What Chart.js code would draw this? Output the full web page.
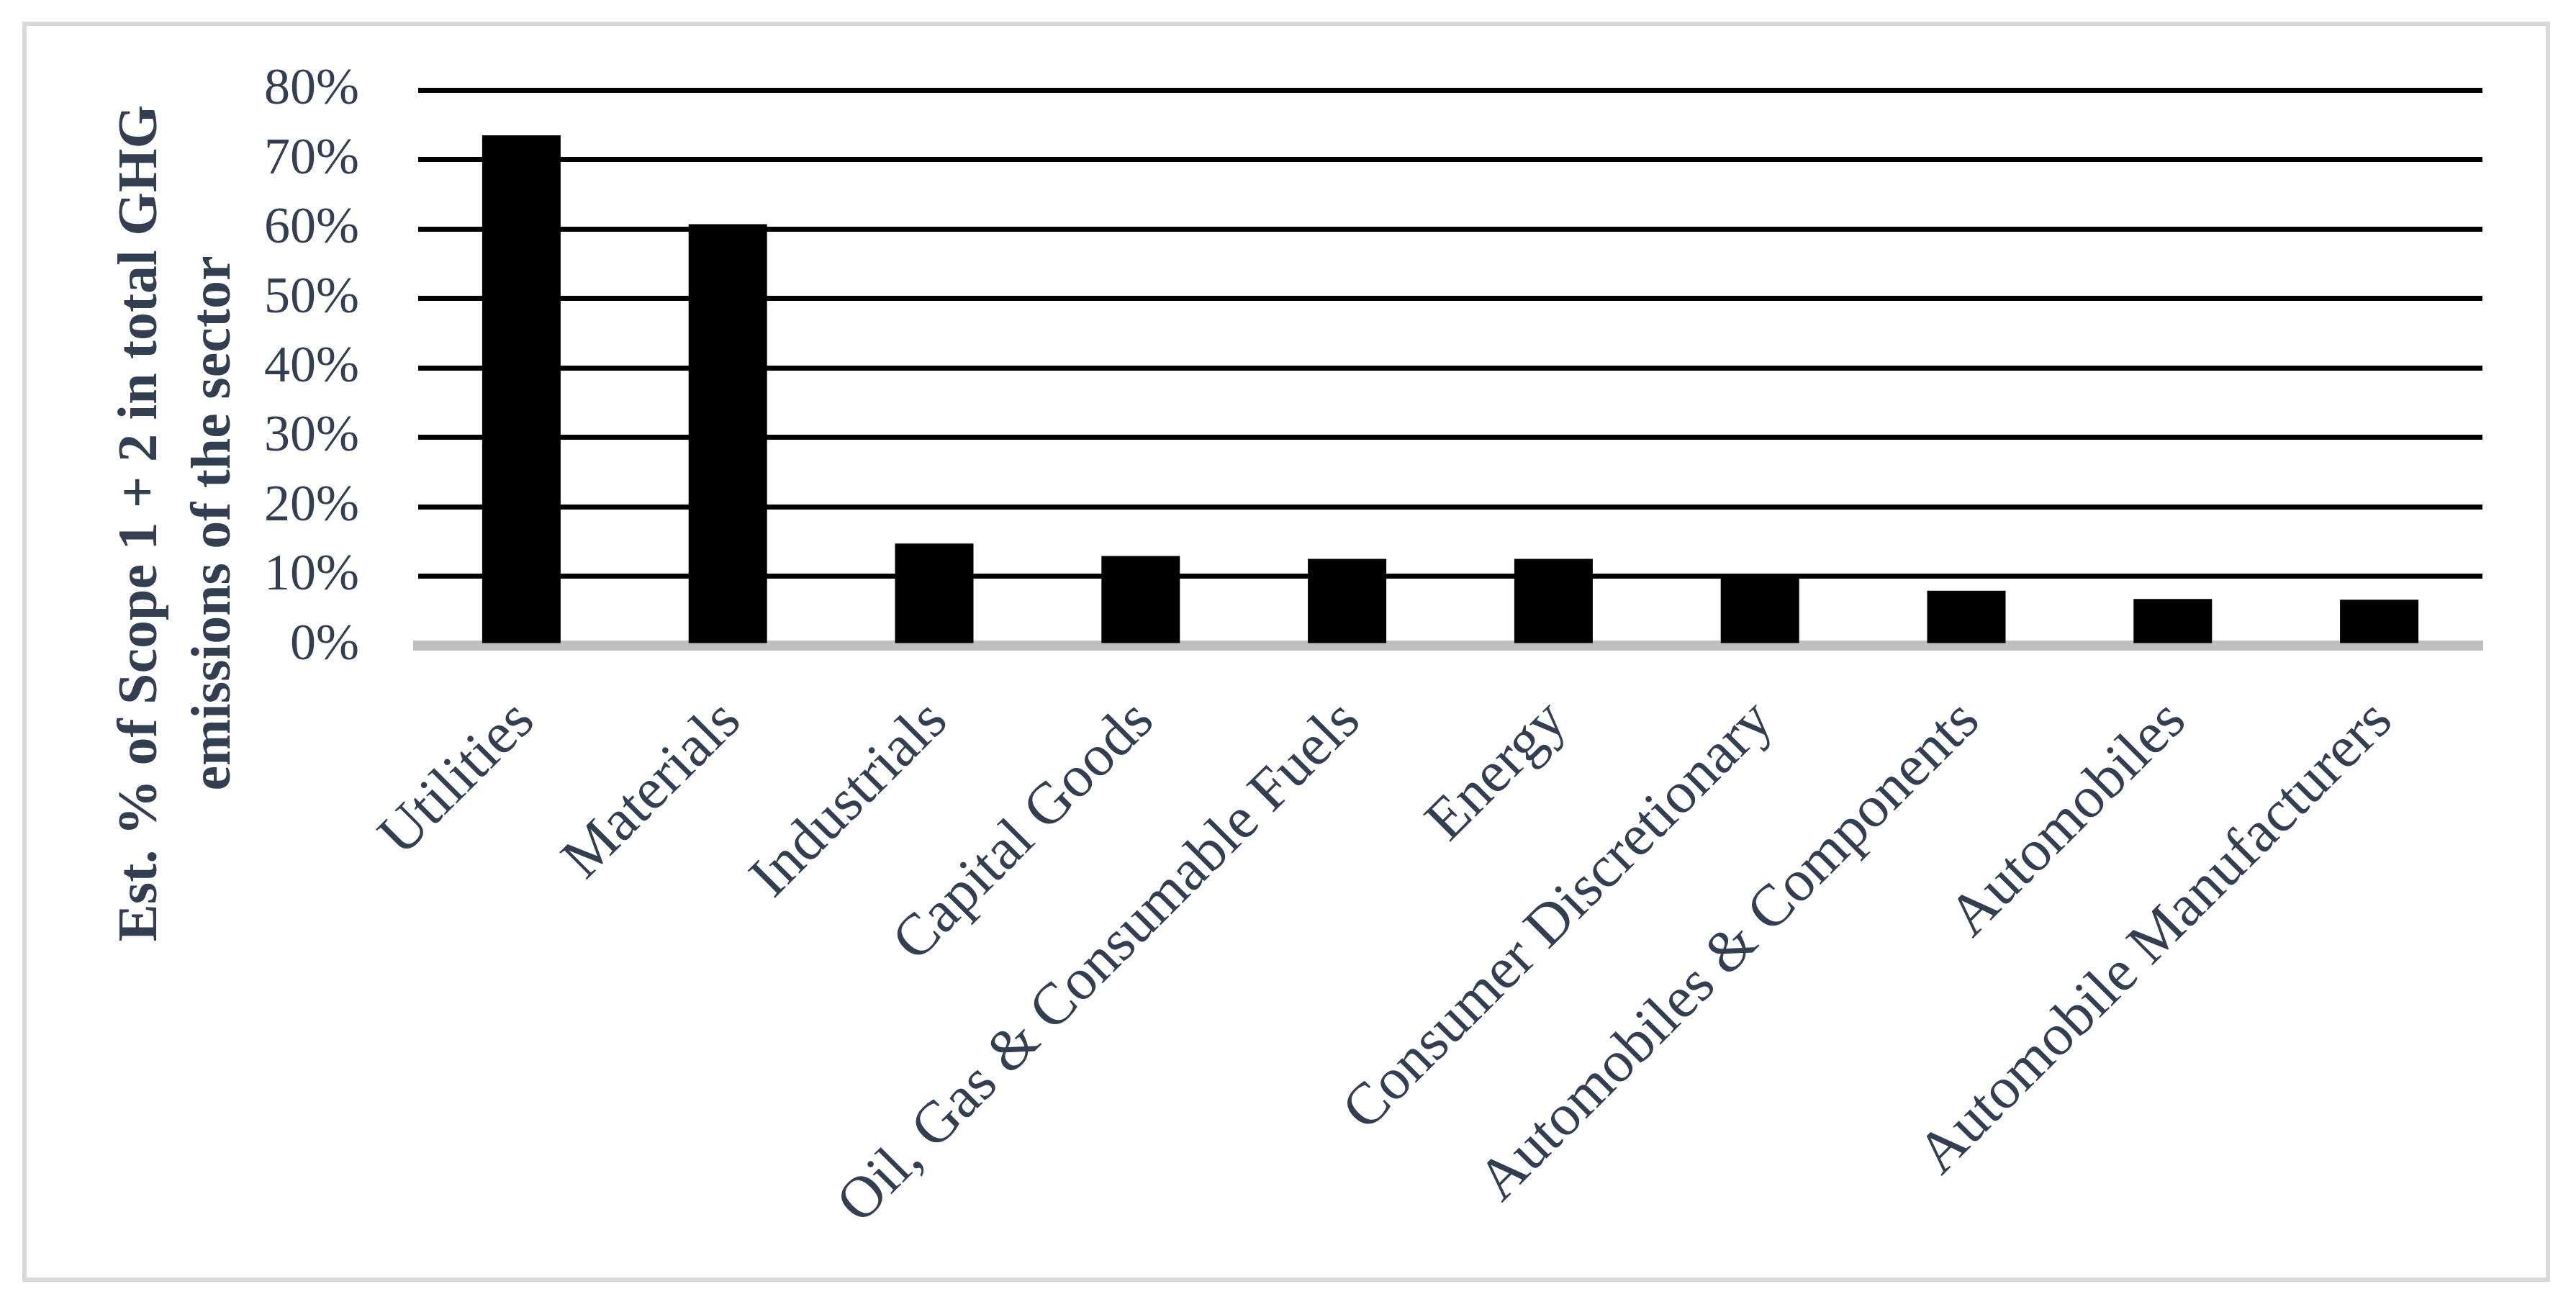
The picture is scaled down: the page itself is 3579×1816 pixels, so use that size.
<!DOCTYPE html>
<html>
<head>
<meta charset="utf-8">
<script src="https://cdn.jsdelivr.net/npm/chart.js@4.4.0/dist/chart.umd.min.js"></script>
<style>
  html, body { margin: 0; padding: 0; background: #fff; }
  #wrap { position: relative; width: 3579px; height: 1816px; }
  #frame { position: absolute; left: 31px; top: 30px; width: 3512px; height: 1751px; box-sizing: border-box; border: 6px solid #d9d9d9; }
  #grafico { position: absolute; left: 0; top: 0; }
</style>
</head>
<body>
<div id="wrap">
  <div id="frame"></div>
  <canvas id="grafico" width="3579" height="1816"></canvas>
</div>
<script>
const setores = [
    'Utilities',
    'Materials',
    'Industrials',
    'Capital Goods',
    'Oil, Gas & Consumable Fuels',
    'Energy',
    'Consumer Discretionary',
    'Automobiles & Components',
    'Automobiles',
    'Automobile Manufacturers'
];
const percentuais = [73.5, 60.7, 14.7, 12.9, 12.5, 12.5, 10.1, 7.9, 6.7, 6.6];
const marcasY = [0, 10, 20, 30, 40, 50, 60, 70, 80];
const tituloY = ['Est. % of Scope 1 + 2 in total GHG', 'emissions of the sector'];

const corTexto = '#333f50';
const fonte = 'Liberation Serif';

// titulo do eixo y fica centrado na altura toda, nao so na area do grafico
const tituloEixoY = {
    id: 'tituloEixoY',
    afterDraw(chart) {
        const ctx = chart.ctx;
        ctx.save();
        ctx.fillStyle = corTexto;
        ctx.font = 'bold 78px "' + fonte + '"';
        ctx.textAlign = 'center';
        ctx.textBaseline = 'alphabetic';
        const linhas = [217, 319];
        tituloY.forEach((txt, i) => {
            ctx.save();
            ctx.translate(linhas[i], 727);
            ctx.rotate(-Math.PI / 2);
            ctx.fillText(txt, 0, 0);
            ctx.restore();
        });
        ctx.restore();
    }
};

const data = {
    labels: setores,
    datasets: [{
        label: 'Est. % of Scope 1 + 2',
        backgroundColor: '#000000',
        borderWidth: 0,
        data: percentuais,
        barPercentage: 0.38,
        categoryPercentage: 1
    }]
};

const config = {
    type: 'bar',
    data: data,
    plugins: [tituloEixoY],
    options: {
        responsive: false,
        animation: false,
        layout: {
            padding: { top: 122, right: 130, bottom: 0, left: 0 }
        },
        plugins: {
            legend: { display: false },
            tooltip: { enabled: false }
        },
        scales: {
            x: {
                z: 1,
                grid: { display: false, drawTicks: false },
                border: { display: true, color: '#bfbfbf', width: 14 },
                ticks: {
                    autoSkip: false,
                    minRotation: 45,
                    maxRotation: 45,
                    padding: 58,
                    labelOffset: 6,
                    color: corTexto,
                    font: { family: fonte, size: 82, lineHeight: 1.2 }
                },
                afterFit(scale) { scale.height = 919; }
            },
            y: {
                min: 0,
                max: 80,
                afterBuildTicks(scale) {
                    scale.ticks = marcasY.map(v => ({ value: v }));
                },
                grid: { color: '#000000', lineWidth: 7, drawTicks: false },
                border: { display: false },
                ticks: {
                    padding: 82,
                    color: corTexto,
                    font: { family: fonte, size: 72 },
                    callback: (v) => v + '%'
                },
                afterFit(scale) { scale.width = 581; }
            }
        }
    }
};

const grafico = new Chart(document.getElementById('grafico'), config);
</script>
</body>
</html>
